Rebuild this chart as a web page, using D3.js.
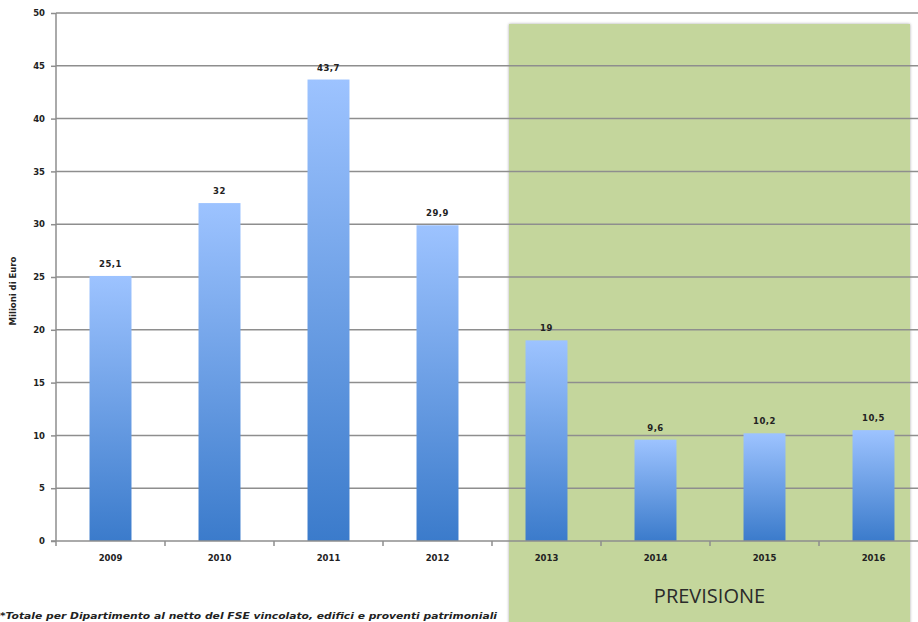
<!DOCTYPE html>
<html>
<head>
<meta charset="utf-8">
<script src="https://cdn.jsdelivr.net/npm/d3@7"></script>
<style>
  html, body { margin: 0; padding: 0; background: #fff; }
  svg { display: block; }
</style>
</head>
<body>
<svg id="chart" width="918" height="622"></svg>
<script>
// Fondi per anno (milioni di euro); dal 2013 valori di previsione
const years = ["2009", "2010", "2011", "2012", "2013", "2014", "2015", "2016"];
const values = [25.1, 32, 43.7, 29.9, 19, 9.6, 10.2, 10.5];
const forecastYears = ["2013", "2014", "2015", "2016"];
const yTicks = [0, 5, 10, 15, 20, 25, 30, 35, 40, 45, 50];
const yTitle = "Milioni di Euro";
const forecastLabel = "PREVISIONE";
const footnote = "*Totale per Dipartimento al netto del FSE vincolato, edifici e proventi patrimoniali";

const W = 918, H = 622;
const plotLeft = 56, plotRight = 928, plotTop = 13, plotBottom = 541;

const svg = d3.select("#chart");

const y = d3.scaleLinear().domain([0, 50]).range([plotBottom, plotTop]);
const xSlots = d3.scaleBand().domain(years).range([plotLeft, plotRight]).padding(0);
const x = d3.scaleBand().domain(years).range([plotLeft, plotRight])
  .paddingInner(0.615).paddingOuter(0.3075);

const fmt = v => String(v).replace(".", ",");

// gradient per bar: light blue on top, deeper blue at the base
const defs = svg.append("defs");
const grad = defs.append("linearGradient").attr("id", "barGrad")
  .attr("x1", 0).attr("y1", 0).attr("x2", 0).attr("y2", 1);
grad.append("stop").attr("offset", "0%").attr("stop-color", "#9dc3ff");
grad.append("stop").attr("offset", "100%").attr("stop-color", "#3b7bcb");

const shadow = defs.append("filter").attr("id", "boxShadow")
  .attr("x", "-5%").attr("y", "-5%").attr("width", "110%").attr("height", "110%");
shadow.append("feGaussianBlur").attr("in", "SourceAlpha").attr("stdDeviation", 1.5).attr("result", "b");
shadow.append("feComponentTransfer").attr("in", "b").attr("result", "s")
  .append("feFuncA").attr("type", "linear").attr("slope", 0.35);
const merge = shadow.append("feMerge");
merge.append("feMergeNode").attr("in", "s");
merge.append("feMergeNode").attr("in", "SourceGraphic");

// forecast panel behind the forecast years
const fx0 = xSlots(forecastYears[0]) + 17;
const fx1 = xSlots(forecastYears[forecastYears.length - 1]) + xSlots.bandwidth() - 18;
svg.append("rect")
  .attr("x", fx0).attr("y", 24)
  .attr("width", fx1 - fx0).attr("height", H - 24 + 10)
  .attr("fill", "#c4d69c")
  .attr("filter", "url(#boxShadow)");

svg.append("text")
  .attr("x", (fx0 + fx1) / 2).attr("y", 603)
  .attr("text-anchor", "middle")
  .attr("font-family", "'Open Sans', sans-serif")
  .attr("font-size", 20)
  .attr("fill", "#2a2a2a")
  .text(forecastLabel);

// horizontal gridlines
svg.append("g").selectAll("line").data(yTicks.filter(d => d > 0)).join("line")
  .attr("x1", plotLeft).attr("x2", W)
  .attr("y1", d => y(d)).attr("y2", d => y(d))
  .attr("stroke", "#8e8e8e").attr("stroke-width", 1.5);

// bars
svg.append("g").selectAll("rect").data(values).join("rect")
  .attr("x", (d, i) => x(years[i]))
  .attr("y", d => y(d))
  .attr("width", x.bandwidth())
  .attr("height", d => y(0) - y(d))
  .attr("fill", "url(#barGrad)");

// value labels
svg.append("g").selectAll("text").data(values).join("text")
  .attr("x", (d, i) => x(years[i]) + x.bandwidth() / 2)
  .attr("y", d => y(d) - 9)
  .attr("text-anchor", "middle")
  .attr("font-family", "'DejaVu Sans', sans-serif")
  .attr("font-weight", "bold")
  .attr("font-size", 8.5)
  .attr("letter-spacing", 0.5)
  .attr("fill", "#222")
  .text(d => fmt(d));

// y axis
const yAxis = d3.axisLeft(y).tickValues(yTicks).tickSize(5).tickPadding(6);
const gy = svg.append("g").attr("transform", `translate(${plotLeft},0)`).call(yAxis);
gy.select(".domain").attr("stroke", "#8e8e8e").attr("stroke-width", 1.5)
  .attr("d", `M0,${plotTop}V${plotBottom + 5}`);
gy.selectAll(".tick line").attr("stroke", "#8e8e8e").attr("stroke-width", 1.5);
gy.selectAll(".tick text")
  .attr("font-family", "'DejaVu Sans', sans-serif")
  .attr("font-weight", "bold")
  .attr("font-size", 8.5)
  .attr("fill", "#222");

// x axis baseline with ticks on category boundaries
const gx = svg.append("g");
gx.append("line")
  .attr("x1", plotLeft - 5).attr("x2", W)
  .attr("y1", plotBottom).attr("y2", plotBottom)
  .attr("stroke", "#8e8e8e").attr("stroke-width", 1.5);
gx.selectAll("line.tk").data(years.slice(1)).join("line").attr("class", "tk")
  .attr("x1", d => xSlots(d)).attr("x2", d => xSlots(d))
  .attr("y1", plotBottom).attr("y2", plotBottom + 5)
  .attr("stroke", "#8e8e8e").attr("stroke-width", 1.5);
gx.selectAll("text").data(years).join("text")
  .attr("x", d => x(d) + x.bandwidth() / 2)
  .attr("y", 561)
  .attr("text-anchor", "middle")
  .attr("font-family", "'DejaVu Sans', sans-serif")
  .attr("font-weight", "bold")
  .attr("font-size", 8.5)
  .attr("fill", "#222")
  .text(d => d);

// y axis title
svg.append("text")
  .attr("transform", `translate(16,${(plotTop + plotBottom) / 2 + 14}) rotate(-90)`)
  .attr("text-anchor", "middle")
  .attr("font-family", "'DejaVu Sans', sans-serif")
  .attr("font-weight", "bold")
  .attr("font-size", 8.5)
  .attr("fill", "#222")
  .text(yTitle);

// footnote
svg.append("text")
  .attr("x", 0).attr("y", 619)
  .attr("font-family", "'DejaVu Sans', sans-serif")
  .attr("font-style", "italic")
  .attr("font-weight", "bold")
  .attr("font-size", 9)
  .attr("textLength", 497)
  .attr("lengthAdjust", "spacingAndGlyphs")
  .attr("fill", "#222")
  .text(footnote);
</script>
</body>
</html>
